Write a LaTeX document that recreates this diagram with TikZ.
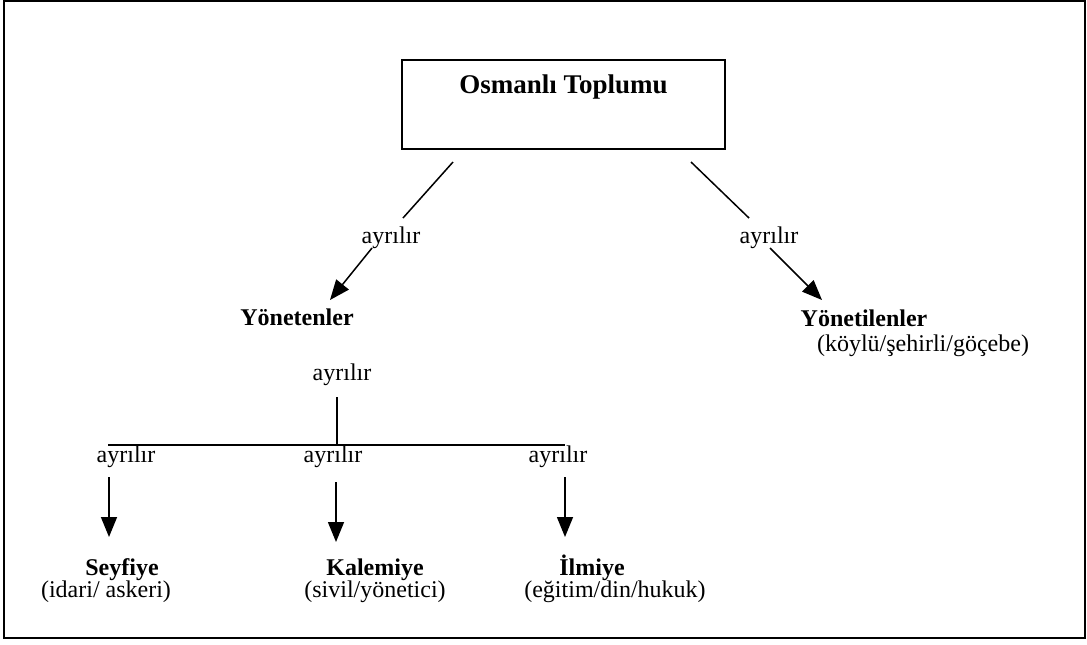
\documentclass[tikz,border=0pt]{standalone}
\usepackage{fontspec}
\setmainfont{Liberation Serif}
\usetikzlibrary{arrows.meta}

\begin{document}
\begin{tikzpicture}[x=0.5pt,y=-0.5pt,
  box/.style={draw,line width=0.8pt,minimum width=161.5pt,inner sep=0pt,anchor=north,
    text height=17pt,text depth=27.5pt,font=\fontsize{13.5}{16}\selectfont\bfseries},
  lab/.style={font=\fontsize{12}{14}\selectfont,anchor=base,inner sep=0pt},
  head/.style={lab,font=\fontsize{12}{14}\selectfont\bfseries},
  ln/.style={line width=0.75pt},
  arr/.style={ln,-{Triangle[length=10pt,width=8pt]}}
]
  \useasboundingbox (0,0) rectangle (1087,644);
  \draw[line width=1pt] (4,1) rectangle (1085,638);

  \node[box] (root) at (563.5,59) {Osmanlı Toplumu};

  % ilk ayrim
  \node[lab] (splitL) at (391,243) {ayrılır};
  \node[lab] (splitR) at (769,243) {ayrılır};
  \coordinate (rL1) at (453,162); \coordinate (rL2) at (403,218);
  \coordinate (rR1) at (691,162); \coordinate (rR2) at (749,218);
  \draw[ln] (rL1) -- (rL2);
  \draw[ln] (rR1) -- (rR2);

  \node[head] (yon) at (297,325) {Yönetenler};
  \node[head] (yonl) at (864,326) {Yönetilenler};
  \node[lab] (yonlx) at (923,351) {(köylü/şehirli/göçebe)};
  \coordinate (aL1) at (372,248); \coordinate (aL2) at (330,300);
  \coordinate (aR1) at (770,248); \coordinate (aR2) at (822,300);
  \draw[arr] (aL1) -- (aL2);
  \draw[arr] (aR1) -- (aR2);

  % yonetenler
  \node[lab] (splitY) at (342,380) {ayrılır};
  \coordinate (v1) at (337,397); \coordinate (v2) at (337,445);
  \coordinate (h1) at (108,445); \coordinate (h2) at (565,445);
  \draw[ln] (v1) -- (v2);
  \draw[line width=1pt] (h1) -- (h2);

  \node[lab] (splitS) at (126,462) {ayrılır};
  \node[lab] (splitK) at (333,462) {ayrılır};
  \node[lab] (splitI) at (558,462) {ayrılır};

  \coordinate (s1) at (109,477); \coordinate (s2) at (109,537);
  \coordinate (k1) at (336,482); \coordinate (k2) at (336,542);
  \coordinate (i1) at (565,477); \coordinate (i2) at (565,537);
  \draw[arr] (s1) -- (s2);
  \draw[arr] (k1) -- (k2);
  \draw[arr] (i1) -- (i2);

  \node[head] (seyf) at (122,575) {Seyfiye};
  \node[lab] (seyfx) at (106,597) {(idari/ askeri)};
  \node[head] (kal) at (375,575) {Kalemiye};
  \node[lab] (kalx) at (375,597) {(sivil/yönetici)};
  \node[head] (ilm) at (592,575) {İlmiye};
  \node[lab] (ilmx) at (615,597) {(eğitim/din/hukuk)};
\end{tikzpicture}
\end{document}
